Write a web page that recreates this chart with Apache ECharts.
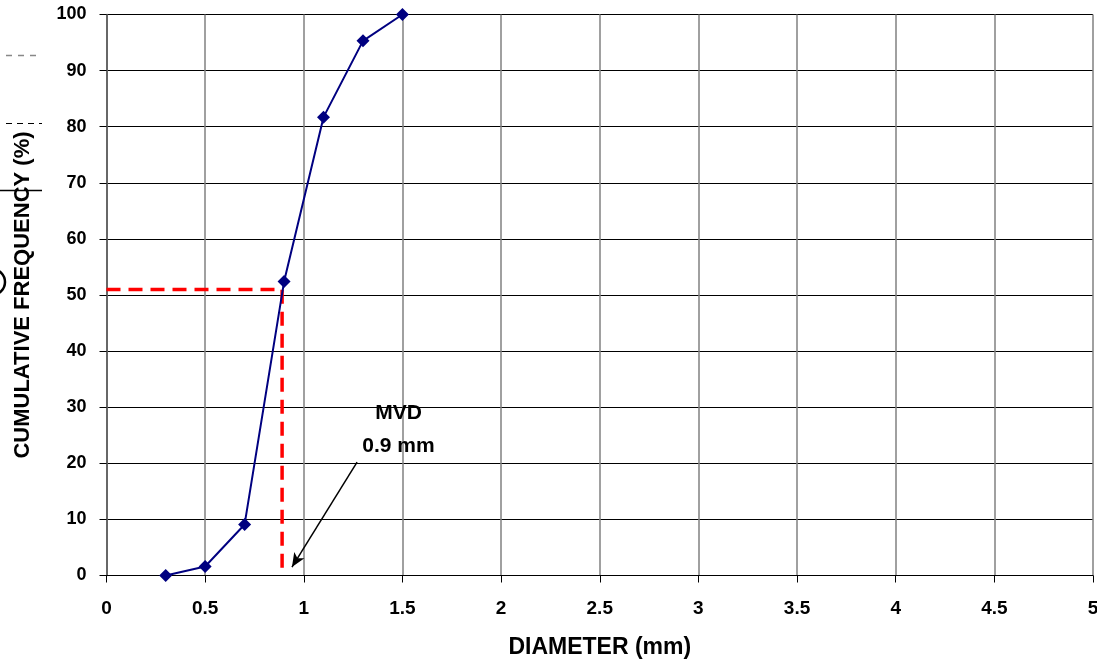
<!DOCTYPE html>
<html><head><meta charset="utf-8">
<script src="https://cdn.jsdelivr.net/npm/echarts@6/dist/echarts.min.js"></script>
<style>html,body{margin:0;padding:0;background:#fff}#c{width:1097px;height:662px}</style>
</head><body><div id="c"></div>
<script>
const diameters = [0.3, 0.5, 0.7, 0.9, 1.1, 1.3, 1.5];
const cumulative = [0, 1.6, 9.1, 52.4, 81.7, 95.3, 100];
const mvdGuide = [[0, 51], [0.89, 51], [0.89, 0]];
const arrowFrom = [1.27, 20.2];
const arrowTo = [0.94, 1.5];
const annotation = { title: 'MVD', value: '0.9 mm', at: [1.48, 26] };
const xTitle = 'DIAMETER (mm)';
const yTitle = 'CUMULATIVE FREQUENCY (%)';

const chart = echarts.init(document.getElementById('c'));
const font = 'Liberation Sans, Arial, sans-serif';
chart.setOption({
  animation: false,
  grid: { left: 106.5, right: 4, top: 14.5, bottom: 86.5, containLabel: false, outerBoundsMode: 'none' },
  xAxis: {
    type: 'value', min: 0, max: 5, interval: 0.5,
    name: xTitle, nameLocation: 'middle', nameGap: 61,
    nameTextStyle: { fontFamily: font, fontWeight: 'bold', fontSize: 23, color: '#000' },
    axisLine: { show: true, onZero: false, lineStyle: { color: '#000', width: 1 } },
    axisTick: { show: true, inside: false, length: 7, lineStyle: { color: '#000' } },
    axisLabel: { fontFamily: font, fontWeight: 'bold', fontSize: 19, color: '#000', margin: 24 },
    splitLine: { show: true, lineStyle: { color: '#808080', width: 1.5 } }
  },
  yAxis: {
    type: 'value', min: 0, max: 100, interval: 10,
    name: yTitle, nameLocation: 'middle', nameGap: 73, nameRotate: 90,
    nameTextStyle: { fontFamily: font, fontWeight: 'bold', fontSize: 22, color: '#000' },
    axisLine: { show: true, onZero: false, lineStyle: { color: '#555', width: 1.5 } },
    axisTick: { show: true, inside: false, length: 7, lineStyle: { color: '#000' } },
    axisLabel: { fontFamily: font, fontWeight: 'bold', fontSize: 18, color: '#000', margin: 20 },
    splitLine: { show: true, lineStyle: { color: '#000', width: 1 } }
  },
  series: [
    {
      type: 'line', z: 3,
      data: mvdGuide,
      symbol: 'none',
      lineStyle: { color: '#ff0000', width: 3.5, type: [14, 8] },
      markLine: {
        silent: true, symbol: ['none', 'arrow'], symbolSize: [9, 14],
        label: { show: false },
        lineStyle: { color: '#000', width: 1.5, type: 'solid' },
        data: [[{ coord: arrowFrom }, { coord: arrowTo }]]
      },
      markPoint: {
        silent: true, symbol: 'circle', symbolSize: 0,
        data: [{ coord: annotation.at, value: 0 }],
        label: {
          show: true, formatter: annotation.title + '\n' + annotation.value,
          fontFamily: font, fontWeight: 'bold', fontSize: 21, color: '#000',
          lineHeight: 33, align: 'center', verticalAlign: 'middle'
        }
      }
    },
    {
      type: 'line', z: 4,
      data: diameters.map((d, i) => [d, cumulative[i]]),
      symbol: 'diamond', symbolSize: 13,
      itemStyle: { color: '#000080' },
      lineStyle: { color: '#000080', width: 2 }
    }
  ],
  graphic: [
    { type: 'line', shape: { x1: 6, y1: 55.5, x2: 42, y2: 55.5 }, style: { stroke: '#888', lineWidth: 1.5, lineDash: [6, 6] } },
    { type: 'line', shape: { x1: 6, y1: 123.5, x2: 42, y2: 123.5 }, style: { stroke: '#000', lineWidth: 1, lineDash: [6, 5] } },
    { type: 'line', shape: { x1: 0, y1: 190.5, x2: 42, y2: 190.5 }, style: { stroke: '#000', lineWidth: 1.5 } },
    { type: 'arc', shape: { cx: -8, cy: 282, r: 13, startAngle: -Math.PI / 2, endAngle: Math.PI / 2 }, style: { stroke: '#000', lineWidth: 2.5, fill: 'none' } }
  ]
});
</script></body></html>
